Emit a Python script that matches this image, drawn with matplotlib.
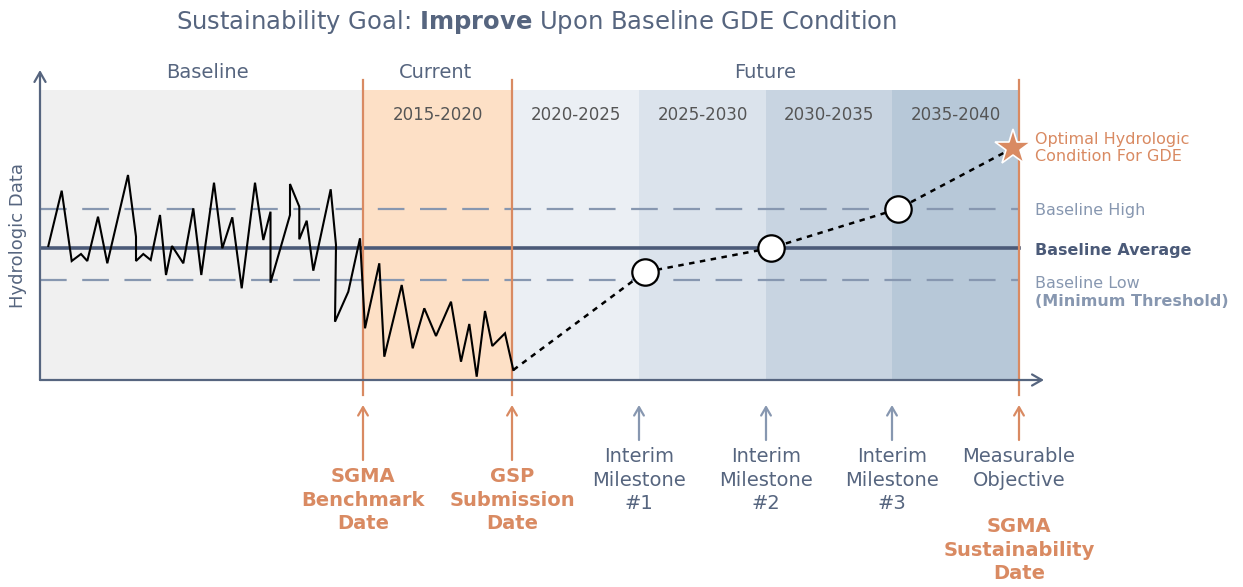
import matplotlib
matplotlib.use("Agg")
import matplotlib.pyplot as plt

# ---------------- data ----------------
period_edges = [0, 32.3, 47.2, 59.9, 72.6, 85.2, 97.9]
period_colors = ["#f0f0f0", "#fde0c6", "#ebeff4", "#dbe3ec", "#c8d4e1", "#b7c8d8"]
period_labels = ["", "2015-2020", "2020-2025", "2025-2030", "2030-2035", "2035-2040"]
shade_top = 29.0

phase_names = ["Baseline", "Current", "Future"]
phase_centers = [16.7, 39.5, 72.5]

series_x = [0.83, 2.17, 3.17, 4.1, 4.73, 5.8, 6.73, 8.8, 9.6, 9.6, 10.33, 11.07, 12.0, 12.6,
            13.2, 14.33, 15.33, 16.13, 17.4, 18.23, 19.23, 20.17, 21.5, 22.33, 23.05, 23.05,
            25.0, 25.0, 25.93, 25.93, 26.67, 27.33, 29.07, 29.6, 29.5, 30.83, 32.0, 32.5,
            33.93, 34.43, 36.17, 37.27, 38.43, 39.6, 41.1, 42.1, 42.93, 43.67, 44.5, 45.23,
            46.5, 47.33]
series_y = [13.4, 18.93, 11.9, 12.6, 11.9, 16.33, 11.67, 20.5, 14.33, 11.9, 12.6, 12.0, 16.5,
            10.5, 13.4, 11.67, 17.17, 10.5, 19.73, 13.17, 16.27, 9.17, 19.73, 14.0, 16.83, 9.73,
            16.5, 19.6, 17.33, 14.07, 15.93, 10.93, 19.07, 13.5, 5.83, 8.83, 14.17, 5.17,
            11.67, 2.33, 9.5, 3.17, 7.17, 4.4, 7.83, 1.83, 5.6, 0.33, 6.9, 3.4, 4.67, 1.0]

milestone_x = [60.5, 73.1, 85.8]
milestone_y = [10.8, 13.2, 17.1]
goal_x = 97.3
goal_y = 23.2

baseline_avg = 13.2
baseline_high = 17.1
baseline_low = 10.0

event_x = [32.3, 47.2, 59.9, 72.6, 85.2, 97.9]
event_labels = ["SGMA\nBenchmark\nDate", "GSP\nSubmission\nDate",
                "Interim\nMilestone\n#1", "Interim\nMilestone\n#2", "Interim\nMilestone\n#3",
                "Measurable\nObjective"]
event_bold = [True, True, False, False, False, False]
event_orange = [True, True, False, False, False, True]

# ---------------- style ----------------
SLATE = "#56657f"
DARK = "#4b5a78"
LIGHT = "#8797b0"
ORANGE = "#d98a62"
GRAY_TXT = "#555555"

fig = plt.figure(figsize=(12.43, 5.87), dpi=100)
ax = fig.add_axes([40 / 1243, 207 / 587, 1005 / 1243, 310 / 587])
ax.set_xlim(0, 100.5)
ax.set_ylim(0, 31.0)
ax.axis("off")

# shaded periods
for i in range(len(period_colors)):
    ax.axvspan(period_edges[i], period_edges[i + 1], ymin=0, ymax=shade_top / 31.0,
               color=period_colors[i], lw=0, zorder=0)
    if period_labels[i]:
        ax.text((period_edges[i] + period_edges[i + 1]) / 2, 26.5, period_labels[i],
                ha="center", va="center", fontsize=12, color=GRAY_TXT)

for name, cx in zip(phase_names, phase_centers):
    ax.text(cx, 30.8, name, ha="center", va="center", fontsize=14, color=SLATE, clip_on=False)

# reference lines
ax.plot([0, 97.9], [baseline_avg] * 2, color=DARK, lw=2.6, zorder=2)
for yv in (baseline_high, baseline_low):
    ax.plot([0, 97.9], [yv] * 2, color=LIGHT, lw=1.6, dashes=(12, 7), zorder=2)

# orange vertical lines
for xv in (32.3, 47.2, 97.9):
    ax.plot([xv, xv], [30.0, -1.5], color=ORANGE, lw=1.6, zorder=3, clip_on=False)

# series
ax.plot(series_x, series_y, color="black", lw=1.5, zorder=4, solid_joinstyle="miter")

# projection
proj_x = [series_x[-1]] + milestone_x + [goal_x]
proj_y = [series_y[-1]] + milestone_y + [goal_y]
ax.plot(proj_x, proj_y, color="black", lw=1.8, dashes=(2.2, 2.2), zorder=4, clip_on=False)
ax.plot(milestone_x, milestone_y, "o", ms=19, mfc="white", mec="black", mew=1.6, zorder=5)
ax.plot([goal_x], [goal_y], "*", ms=27, mfc=ORANGE, mec="white", mew=1.2, zorder=5,
        clip_on=False)

# axes arrows
ax.annotate("", xy=(100.4, 0), xytext=(0, 0), annotation_clip=False,
            arrowprops=dict(arrowstyle="->,head_length=0.7,head_width=0.4", color=SLATE, lw=1.6,
                            shrinkA=0, shrinkB=0), zorder=6)
ax.annotate("", xy=(0, 31.0), xytext=(0, 0), annotation_clip=False,
            arrowprops=dict(arrowstyle="->,head_length=0.7,head_width=0.4", color=SLATE, lw=1.6,
                            shrinkA=0, shrinkB=0), zorder=6)

# event arrows & labels
for xv, lab, bold, orng in zip(event_x, event_labels, event_bold, event_orange):
    acol = ORANGE if orng else LIGHT
    tail = -8.0 if bold else -6.0
    ax.annotate("", xy=(xv, -2.5), xytext=(xv, tail), annotation_clip=False,
                arrowprops=dict(arrowstyle="->,head_length=0.6,head_width=0.35", color=acol,
                                lw=1.6, shrinkA=0, shrinkB=0))
    tcol = ORANGE if bold else SLATE
    ty = -8.75 if bold else -6.75
    ax.text(xv, ty, lab, ha="center", va="top", fontsize=14, color=tcol,
            fontweight="bold" if bold else "normal", linespacing=1.27, clip_on=False)

ax.text(97.9, -13.75, "SGMA\nSustainability\nDate", ha="center", va="top", fontsize=14,
        color=ORANGE, fontweight="bold", linespacing=1.27, clip_on=False)

# right labels
ax.text(99.5, 23.2, "Optimal Hydrologic\nCondition For GDE", ha="left", va="center",
        fontsize=11.5, color=ORANGE, linespacing=1.1, clip_on=False)
ax.text(99.5, baseline_high - 0.2, "Baseline High", ha="left", va="center", fontsize=11.5,
        color=LIGHT, clip_on=False)
ax.text(99.5, baseline_avg - 0.3, "Baseline Average", ha="left", va="center", fontsize=11.5,
        color=DARK, fontweight="bold", clip_on=False)
ax.text(99.5, baseline_low - 0.3, "Baseline Low", ha="left", va="center", fontsize=11.5,
        color=LIGHT, clip_on=False)
ax.text(99.5, baseline_low - 2.1, "(Minimum Threshold)", ha="left", va="center", fontsize=11.5,
        color=LIGHT, fontweight="bold", clip_on=False)

ax.text(-2.2, 14.5, "Hydrologic Data", rotation=90, ha="center", va="center", fontsize=13,
        color=SLATE, clip_on=False)

fig.text(537 / 1243, 1 - 22 / 587, "Sustainability Goal: $\\bf{Improve}$ Upon Baseline GDE Condition",
         ha="center", va="center", fontsize=17.5, color=SLATE)

fig.savefig("out.png", dpi=100)
